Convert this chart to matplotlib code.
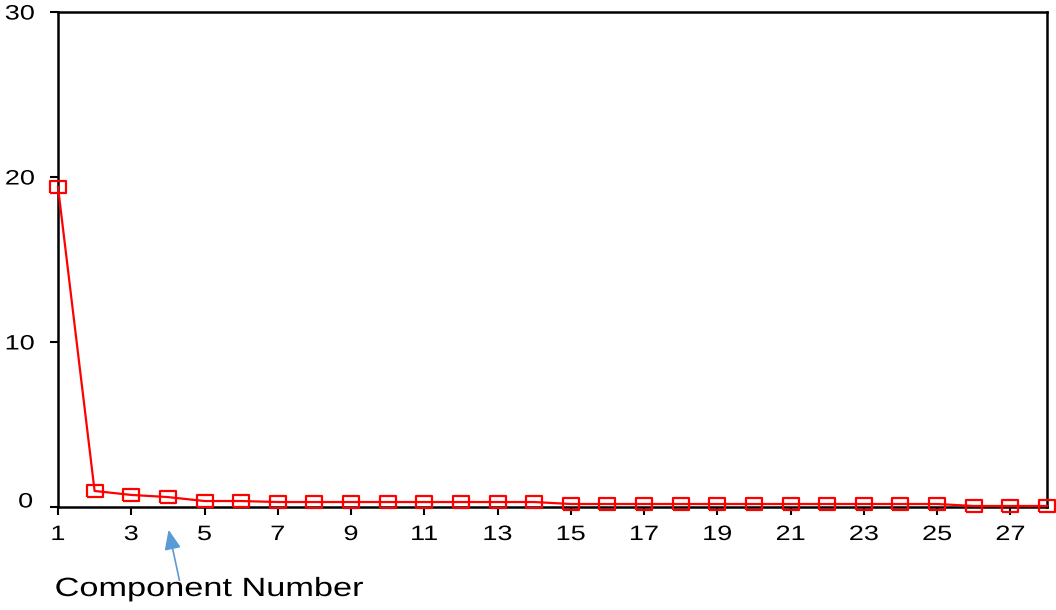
import matplotlib
matplotlib.use("Agg")
import matplotlib.pyplot as plt
import matplotlib.transforms as mtransforms
from matplotlib.patheffects import AbstractPathEffect
import numpy as np

plt.rcParams['font.family'] = ['Liberation Sans', 'DejaVu Sans']

components = list(range(1, 29))
eigenvalues = [19.4, 0.97, 0.73, 0.6, 0.36, 0.36, 0.3, 0.3, 0.3, 0.3, 0.3, 0.3, 0.3, 0.3,
               0.18, 0.18, 0.18, 0.18, 0.18, 0.18, 0.18, 0.18, 0.18, 0.18, 0.18,
               0.06, 0.06, 0.06]
x_ticks = list(range(1, 28, 2))
y_ticks = [0, 10, 20, 30]
axis_label = "Component Number"


class WideText(AbstractPathEffect):
    """Draw text glyphs stretched horizontally about an anchor fraction of their width."""

    def __init__(self, sx=1.3, anchor=0.5):
        super().__init__()
        self.sx = sx
        self.anchor = anchor

    def draw_path(self, renderer, gc, tpath, affine, rgbFace=None):
        ext = tpath.get_extents()
        ax0 = ext.x0 + self.anchor * ext.width
        stretch = (mtransforms.Affine2D().translate(-ax0, 0)
                   .scale(self.sx, 1).translate(ax0, 0))
        renderer.draw_path(gc, tpath, stretch + affine, rgbFace)


fig = plt.figure(figsize=(10.56, 6.10), dpi=100)
ax = fig.add_axes([0.0549, 0.1689, 0.9366, 0.8114])

# wide rectangular open marker
rect = [(-1.35, -1), (1.35, -1), (1.35, 1), (-1.35, 1), (-1.35, -1)]
ax.plot(components, eigenvalues, color='#ff0000', lw=1.6,
        marker=rect, markersize=11, markerfacecolor='none',
        markeredgecolor='#ff0000', markeredgewidth=1.6, clip_on=False, zorder=3)

ax.set_xlim(1, 28)
ax.set_ylim(0, 30)
ax.set_xticks(x_ticks)
ax.set_yticks(y_ticks)
for s in ax.spines.values():
    s.set_linewidth(1.8)
    s.set_color('black')
ax.tick_params(axis='both', direction='out', length=6, width=1.5,
               labelsize=15, colors='black')
ax.tick_params(axis='x', pad=7)
ax.tick_params(axis='y', pad=13)

for lab in ax.get_xticklabels():
    lab.set_path_effects([WideText(1.3, 0.5)])
for lab in ax.get_yticklabels():
    lab.set_path_effects([WideText(1.3, 0.5)])

# the zero label sits a little above the baseline
zero_label = ax.get_yticklabels()[0]
zero_label.set_transform(zero_label.get_transform() +
                         mtransforms.ScaledTranslation(0, 7 / 100, fig.dpi_scale_trans))

ax.text(55, 21, axis_label, transform=None, fontsize=19, ha='left', va='center',
        color='black', path_effects=[WideText(1.3, 0.0)])

# arrow pointing up at the axis
ax.annotate('', xy=(168 / 1056, 1 - 527 / 610), xycoords='figure fraction',
            xytext=(180 / 1056, 1 - 583 / 610), textcoords='figure fraction',
            arrowprops=dict(arrowstyle='-|>,head_length=1.2,head_width=0.5',
                            color='#5b9bd5', lw=1.2))

fig.savefig('out.png', dpi=100)
